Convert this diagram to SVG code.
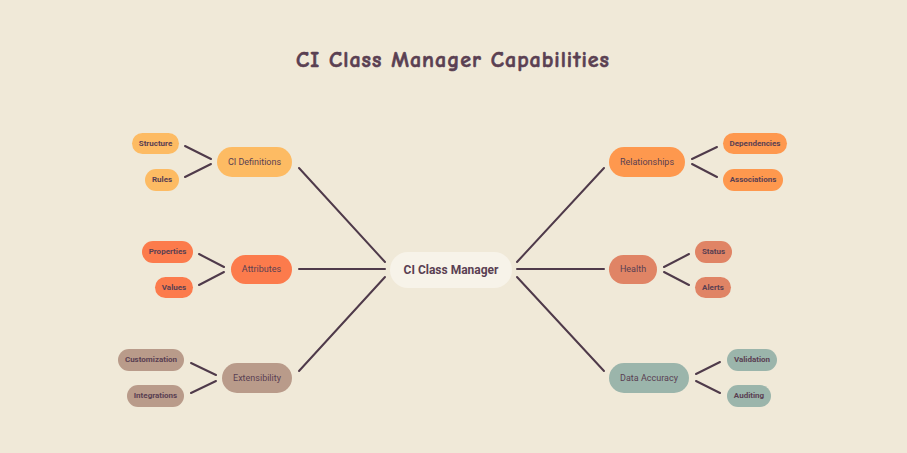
<svg xmlns="http://www.w3.org/2000/svg" width="907" height="453" viewBox="0 0 907 453">
<style>
.bg{fill:#f0e9d8}
.title{font-family:"Comic Neue","Lato","Liberation Sans",sans-serif;font-size:22px;font-weight:700;fill:#5a4052;text-anchor:middle;letter-spacing:1px;stroke:#5a4052;stroke-width:0.6px}
.c{fill:#f7f3e9}
.ct{font-family:Roboto,"Liberation Sans",sans-serif;font-size:12px;font-weight:700;fill:#5a4052;text-anchor:middle;dominant-baseline:central}
.mt{font-family:Roboto,"Liberation Sans",sans-serif;font-size:9px;font-weight:400;fill:#5a4052;text-anchor:middle;dominant-baseline:central}
.lt{font-family:Roboto,"Liberation Sans",sans-serif;font-size:8px;font-weight:700;fill:#5a4052;text-anchor:middle;dominant-baseline:central}
.def{fill:#fdbb63}
.att{fill:#fc7b4c}
.ext{fill:#b99b8a}
.rel{fill:#fe984e}
.hea{fill:#e08465}
.dat{fill:#9bb5ab}
#connectors line{stroke:#4f3a4a;stroke-width:2;stroke-linecap:round}
</style>
<rect class="bg" x="0" y="0" width="907" height="453"/>
<text class="title" x="453" y="67">CI Class Manager Capabilities</text>
<g id="connectors">
<line x1="299" y1="168" x2="385" y2="262"/>
<line x1="299" y1="269" x2="385" y2="269"/>
<line x1="299" y1="371" x2="385" y2="277"/>
<line x1="517" y1="262" x2="604" y2="168"/>
<line x1="517" y1="269" x2="604" y2="269"/>
<line x1="517" y1="277" x2="604" y2="371"/>
<line x1="185" y1="146" x2="211" y2="159"/>
<line x1="185" y1="177" x2="211" y2="164"/>
<line x1="199" y1="254" x2="224" y2="267"/>
<line x1="199" y1="285" x2="224" y2="272"/>
<line x1="191" y1="363" x2="216" y2="375"/>
<line x1="191" y1="393" x2="216" y2="381"/>
<line x1="692" y1="159" x2="717" y2="147"/>
<line x1="692" y1="164" x2="717" y2="177"/>
<line x1="664" y1="267" x2="689" y2="254"/>
<line x1="664" y1="272" x2="689" y2="285"/>
<line x1="696" y1="374" x2="720" y2="362"/>
<line x1="696" y1="381" x2="720" y2="393"/>
</g>
<g id="center"><rect class="c" x="390" y="252" width="122" height="36" rx="18"/><text class="ct" x="451" y="270">CI Class Manager</text></g>
<g id="ci-definitions"><rect class="def" x="217" y="147" width="75" height="30" rx="15"/><text class="mt" x="254.5" y="161.5">CI Definitions</text></g>
<g id="structure"><rect class="def" x="132" y="133" width="47" height="21" rx="10.5"/><text class="lt" x="155.5" y="143">Structure</text></g>
<g id="rules"><rect class="def" x="145" y="169" width="34" height="22" rx="11"/><text class="lt" x="162" y="179.5">Rules</text></g>
<g id="attributes"><rect class="att" x="231" y="255" width="61" height="29" rx="14.5"/><text class="mt" x="261.5" y="269">Attributes</text></g>
<g id="properties"><rect class="att" x="142" y="241" width="51" height="22" rx="11"/><text class="lt" x="167.5" y="251.5">Properties</text></g>
<g id="values"><rect class="att" x="155" y="277" width="38" height="21" rx="10.5"/><text class="lt" x="174" y="287">Values</text></g>
<g id="extensibility"><rect class="ext" x="222" y="363" width="70" height="30" rx="15"/><text class="mt" x="257" y="377.5">Extensibility</text></g>
<g id="customization"><rect class="ext" x="118" y="349" width="66" height="22" rx="11"/><text class="lt" x="151" y="359.5">Customization</text></g>
<g id="integrations"><rect class="ext" x="127" y="385" width="57" height="22" rx="11"/><text class="lt" x="155.5" y="395.5">Integrations</text></g>
<g id="relationships"><rect class="rel" x="609" y="147" width="76" height="30" rx="15"/><text class="mt" x="647" y="161.5">Relationships</text></g>
<g id="dependencies"><rect class="rel" x="723" y="133" width="64" height="21" rx="10.5"/><text class="lt" x="755" y="143">Dependencies</text></g>
<g id="associations"><rect class="rel" x="723" y="169" width="60" height="22" rx="11"/><text class="lt" x="753" y="179.5">Associations</text></g>
<g id="health"><rect class="hea" x="609" y="255" width="48" height="29" rx="14.5"/><text class="mt" x="633" y="269">Health</text></g>
<g id="status"><rect class="hea" x="695" y="241" width="37" height="22" rx="11"/><text class="lt" x="713.5" y="251.5">Status</text></g>
<g id="alerts"><rect class="hea" x="695" y="277" width="36" height="21" rx="10.5"/><text class="lt" x="713" y="287">Alerts</text></g>
<g id="data-accuracy"><rect class="dat" x="609" y="363" width="80" height="30" rx="15"/><text class="mt" x="649" y="377.5">Data Accuracy</text></g>
<g id="validation"><rect class="dat" x="727" y="349" width="50" height="22" rx="11"/><text class="lt" x="752" y="359.5">Validation</text></g>
<g id="auditing"><rect class="dat" x="727" y="385" width="44" height="22" rx="11"/><text class="lt" x="749" y="395.5">Auditing</text></g>
</svg>
